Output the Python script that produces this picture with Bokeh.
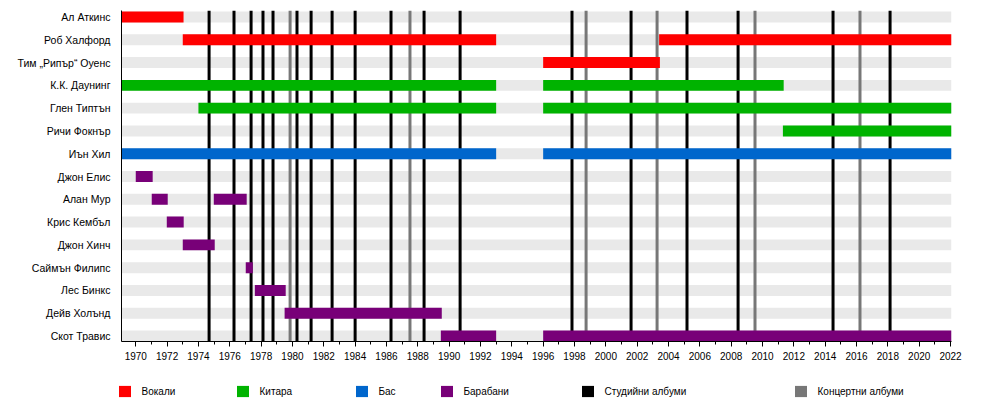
from bokeh.plotting import figure
from bokeh.models import Range1d, FixedTicker, Legend, LegendItem, ColumnDataSource
from bokeh.layouts import column
from bokeh.embed import file_html
from bokeh.resources import INLINE

# ---------------- data ----------------
members = ["Ал Аткинс", "Роб Халфорд", "Тим „Рипър“ Оуенс", "К.К. Даунинг",
           "Глен Типтън", "Ричи Фокнър", "Иън Хил", "Джон Елис", "Алан Мур",
           "Крис Кембъл", "Джон Хинч", "Саймън Филипс", "Лес Бинкс",
           "Дейв Холънд", "Скот Травис"]

vocals_member = ["Ал Аткинс", "Роб Халфорд", "Роб Халфорд", "Тим „Рипър“ Оуенс"]
vocals_start = [1969.0, 1973.0, 2003.4, 1996.0]
vocals_end = [1973.05, 1993.0, 2022.1, 2003.45]

guitar_member = ["К.К. Даунинг", "К.К. Даунинг", "Глен Типтън", "Глен Типтън", "Ричи Фокнър"]
guitar_start = [1969.0, 1996.0, 1974.0, 1996.0, 2011.3]
guitar_end = [1993.0, 2011.35, 1993.0, 2022.1, 2022.1]

bass_member = ["Иън Хил", "Иън Хил"]
bass_start = [1969.0, 1996.0]
bass_end = [1993.0, 2022.1]

drums_member = ["Джон Елис", "Алан Мур", "Алан Мур", "Крис Кембъл", "Джон Хинч",
                "Саймън Филипс", "Лес Бинкс", "Дейв Холънд", "Скот Травис", "Скот Травис"]
drums_start = [1970.0, 1971.02, 1974.98, 1971.98, 1973.0, 1977.02, 1977.6, 1979.5, 1989.47, 1996.0]
drums_end = [1971.08, 1972.04, 1977.08, 1973.06, 1975.04, 1977.47, 1979.57, 1989.53, 1993.0, 2022.1]

studio_albums = [1974.68, 1976.27, 1977.36, 1978.12, 1978.76, 1980.29, 1981.19,
                 1982.53, 1984.0, 1986.29, 1988.4, 1990.7, 1997.84, 2001.61,
                 2005.18, 2008.44, 2014.5, 2018.14]
live_albums = [1979.85, 1987.5, 1998.74, 2003.27, 2009.52, 2016.22]

label_years = [1970, 1972, 1974, 1976, 1978, 1980, 1982, 1984, 1986, 1988, 1990,
               1992, 1994, 1996, 1998, 2000, 2002, 2004, 2006, 2008, 2010, 2012,
               2014, 2016, 2018, 2020, 2022]
minor_years = [1970, 1971, 1972, 1973, 1974, 1975, 1976, 1977, 1978, 1979, 1980,
               1981, 1982, 1983, 1984, 1985, 1986, 1987, 1988, 1989, 1990, 1991,
               1992, 1993, 1994, 1995, 1996, 1997, 1998, 1999, 2000, 2001, 2002,
               2003, 2004, 2005, 2006, 2007, 2008, 2009, 2010, 2011, 2012, 2013,
               2014, 2015, 2016, 2017, 2018, 2019, 2020, 2021, 2022]

legend_labels = ["Вокали", "Китара", "Бас", "Барабани", "Студийни албуми", "Концертни албуми"]

# ---------------- style ----------------
C_VOC = "#ff0000"
C_GUI = "#00b300"
C_BAS = "#0066cc"
C_DRU = "#780078"
C_STU = "#000000"
C_LIV = "#777777"
C_BAND = "#e9e9e9"
FONT = "Liberation Sans"
legend_colors = [C_VOC, C_GUI, C_BAS, C_DRU, C_STU, C_LIV]

X0, X1 = 1969.09, 2022.06
Y_TOP, Y_BOT = -0.285, 14.24
BAR_H = 0.48

p = figure(output_backend="svg", toolbar_location=None,
           frame_width=830, frame_height=331,
           x_range=Range1d(X0, X1), y_range=Range1d(Y_BOT, Y_TOP),
           min_border_left=121, min_border_top=10, min_border_right=33,
           min_border_bottom=29)
p.outline_line_color = None
p.xgrid.visible = False
p.ygrid.visible = False
p.background_fill_color = "white"
p.border_fill_color = "white"

rows = list(range(len(members)))

# background bands
p.hbar(y=rows, left=X0, right=X1, height=BAR_H, fill_color=C_BAND, line_color=None)

# album lines
p.segment(x0=studio_albums, y0=Y_BOT, x1=studio_albums, y1=Y_TOP, line_color=C_STU, line_width=3)
p.segment(x0=live_albums, y0=Y_BOT, x1=live_albums, y1=Y_TOP, line_color=C_LIV, line_width=3)

def bars(names, starts, ends, color):
    src = ColumnDataSource(dict(y=[members.index(n) for n in names], left=starts, right=ends))
    return p.hbar(y="y", left="left", right="right", height=BAR_H, source=src,
                  fill_color=color, line_color=None)

bars(vocals_member, vocals_start, vocals_end, C_VOC)
bars(guitar_member, guitar_start, guitar_end, C_GUI)
bars(bass_member, bass_start, bass_end, C_BAS)
bars(drums_member, drums_start, drums_end, C_DRU)

# axes
xa = p.xaxis[0]
xa.ticker = FixedTicker(ticks=label_years, minor_ticks=minor_years)
xa.axis_line_color = "black"
xa.major_tick_line_color = "black"
xa.minor_tick_line_color = "black"
xa.major_tick_in = 0
xa.major_tick_out = 5
xa.minor_tick_in = 0
xa.minor_tick_out = 3
xa.major_label_text_font = FONT
xa.major_label_text_font_size = "10px"
xa.major_label_text_color = "black"
xa.major_label_standoff = 5

ya = p.yaxis[0]
ya.ticker = FixedTicker(ticks=rows)
ya.major_label_overrides = {i: n for i, n in enumerate(members)}
ya.axis_line_color = "black"
ya.major_tick_line_color = None
ya.minor_tick_line_color = None
ya.major_tick_out = 0
ya.major_tick_in = 0
ya.major_label_standoff = 11
ya.major_label_text_font = FONT
ya.major_label_text_font_size = "10.5px"
ya.major_label_text_color = "black"

# ---------------- legend strip ----------------
lg = figure(output_backend="svg", toolbar_location=None,
            frame_width=984, frame_height=30,
            x_range=Range1d(0, 1), y_range=Range1d(0, 1),
            min_border_left=0, min_border_right=0, min_border_top=0, min_border_bottom=0)
lg.axis.visible = False
lg.xgrid.visible = False
lg.ygrid.visible = False
lg.outline_line_color = None
lg.background_fill_color = "white"
lg.border_fill_color = "white"

legend_x = [116.5, 234.5, 353.5, 438.5, 579.5, 792.5]
for lab, col, lx in zip(legend_labels, legend_colors, legend_x):
    # zero-size swatch renderer: only its legend square is visible
    r = lg.hbar(y=[0.5], left=[0.0], right=[0.0], height=0.0, fill_color=col, line_color=None)
    leg = Legend(items=[LegendItem(label=lab, renderers=[r])], location=(lx, 2),
                 orientation="horizontal", glyph_width=15, glyph_height=14,
                 label_standoff=10, padding=0, margin=0, spacing=0,
                 border_line_color=None, background_fill_alpha=0,
                 label_text_font=FONT, label_text_font_size="10px",
                 label_text_color="black", label_height=14)
    lg.add_layout(leg)

layout = column(p, lg, spacing=0)
open("out.html", "w").write(file_html(layout, INLINE))
